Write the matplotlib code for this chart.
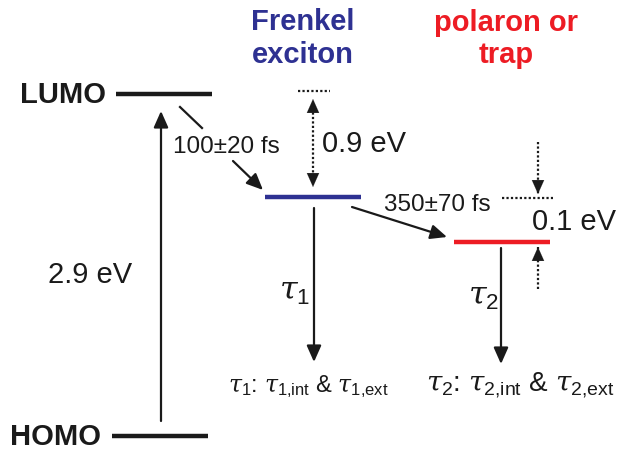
import matplotlib.pyplot as plt

plt.rcParams['font.family'] = ['Liberation Sans', 'DejaVu Sans']
plt.rcParams['mathtext.fontset'] = 'custom'
plt.rcParams['mathtext.rm'] = 'Liberation Sans'
plt.rcParams['mathtext.it'] = 'DejaVu Serif:italic'

# schematic energy levels (drawing units, y grows downwards)
level_names = ['LUMO', 'HOMO', 'Frenkel', 'polaron']
level_left = [116, 112, 265, 454]
level_right = [212, 208, 361, 550]
level_y = [95, 437, 198, 243]
level_colors = ['#1a1a1a', '#1a1a1a', '#2e3192', '#ed1c24']

gap_label = '2.9 eV'
binding_label = '0.9 eV'
trap_label = '0.1 eV'
relax_times = ['100±20 fs', '350±70 fs']
lifetimes = [r'$\tau_1$: $\tau_{1{,}\mathrm{int}}$ & $\tau_{1{,}\mathrm{ext}}$',
             r'$\tau_2$: $\tau_{2{,}\mathrm{int}}$ & $\tau_{2{,}\mathrm{ext}}$']

BLUE = '#2e3192'
RED = '#ed1c24'
INK = '#1a1a1a'

fig = plt.figure(figsize=(6.22, 4.52), dpi=100)
ax = fig.add_axes([0, 0, 1, 1])
ax.set_xlim(0, 622)
ax.set_ylim(452, 0)
ax.axis('off')

HEAD = '-|>,head_length=0.45,head_width=0.2'


def arrow(tail, tip, lw=1.6):
    ax.annotate('', xy=tip, xytext=tail,
                arrowprops=dict(arrowstyle=HEAD, mutation_scale=22, lw=lw,
                                color=INK, shrinkA=0, shrinkB=0))


def dotted_arrow(tail, tip):
    ax.plot([tail[0], tip[0]], [tail[1], tip[1]], color=INK, lw=1.6,
            ls=(0, (1, 1)))
    # solid head at the tip
    d = 1 if tip[1] > tail[1] else -1
    arrow((tip[0], tip[1] - d * 13), tip, lw=0.1)


# level bars
for name, x0, x1, y, c in zip(level_names, level_left, level_right, level_y, level_colors):
    ax.plot([x0, x1], [y, y], color=c, lw=3.2, solid_capstyle='butt')

lumo, homo, frenkel, polaron = level_y

ax.text(level_left[0] - 10, lumo, 'LUMO', fontsize=21, fontweight='bold',
        ha='right', va='center', color=INK)
ax.text(level_left[1] - 11, homo, 'HOMO', fontsize=21, fontweight='bold',
        ha='right', va='center', color=INK)

ax.text(303, 30, 'Frenkel', fontsize=21, fontweight='bold', color=BLUE,
        ha='center', va='baseline')
ax.text(303, 63, 'exciton', fontsize=21, fontweight='bold', color=BLUE,
        ha='center', va='baseline')
ax.text(506, 31, 'polaron or', fontsize=21, fontweight='bold', color=RED,
        ha='center', va='baseline')
ax.text(506, 63, 'trap', fontsize=21, fontweight='bold', color=RED,
        ha='center', va='baseline')

# optical gap
arrow((161, homo - 15), (161, lumo + 17))
ax.text(90, 275, gap_label, fontsize=21, ha='center', va='center', color=INK)

# hot exciton relaxation, line broken by its label
ax.plot([180, 202], [lumo + 13, lumo + 34], color=INK, lw=1.6)
arrow((233, frenkel - 36), (263, frenkel - 7))
ax.text(226, 147, relax_times[0], fontsize=17.5, ha='center', va='center', color=INK)

# exciton binding energy
ax.plot([298, 330], [lumo - 3, lumo - 3], color=INK, lw=1.6, ls=(0, (1, 1)))
ax.plot([313, 313], [lumo + 14, frenkel - 24], color=INK, lw=1.6, ls=(0, (1, 1)))
arrow((313, lumo + 18), (313, lumo + 5), lw=0.1)
arrow((313, frenkel - 24), (313, frenkel - 10), lw=0.1)
ax.text(322, 144, binding_label, fontsize=21, ha='left', va='center', color=INK)

# exciton -> polaron / trap
arrow((352, frenkel + 10), (447, polaron - 5))
ax.text(437, 205, relax_times[1], fontsize=17.5, ha='center', va='center', color=INK)

# trap depth
ax.plot([502, 553], [frenkel + 1, frenkel + 1], color=INK, lw=1.6, ls=(0, (1, 1)))
dotted_arrow((538, 143), (538, frenkel - 3))
dotted_arrow((538, 290), (538, polaron + 5))
ax.text(532, 222, trap_label, fontsize=21, ha='left', va='center', color=INK)

# decay channels
arrow((314, frenkel + 11), (314, 363))
arrow((501, polaron + 6), (501, 365))
ax.text(295, 292, r'$\tau_1$', fontsize=23, ha='center', va='center', color=INK)
ax.text(484, 297, r'$\tau_2$', fontsize=23, ha='center', va='center', color=INK)

ax.text(308, 387, lifetimes[0], fontsize=17, ha='center', va='center', color=INK)
ax.text(520, 385, lifetimes[1], fontsize=20, ha='center', va='center', color=INK)

fig.savefig('out.png', dpi=100)
